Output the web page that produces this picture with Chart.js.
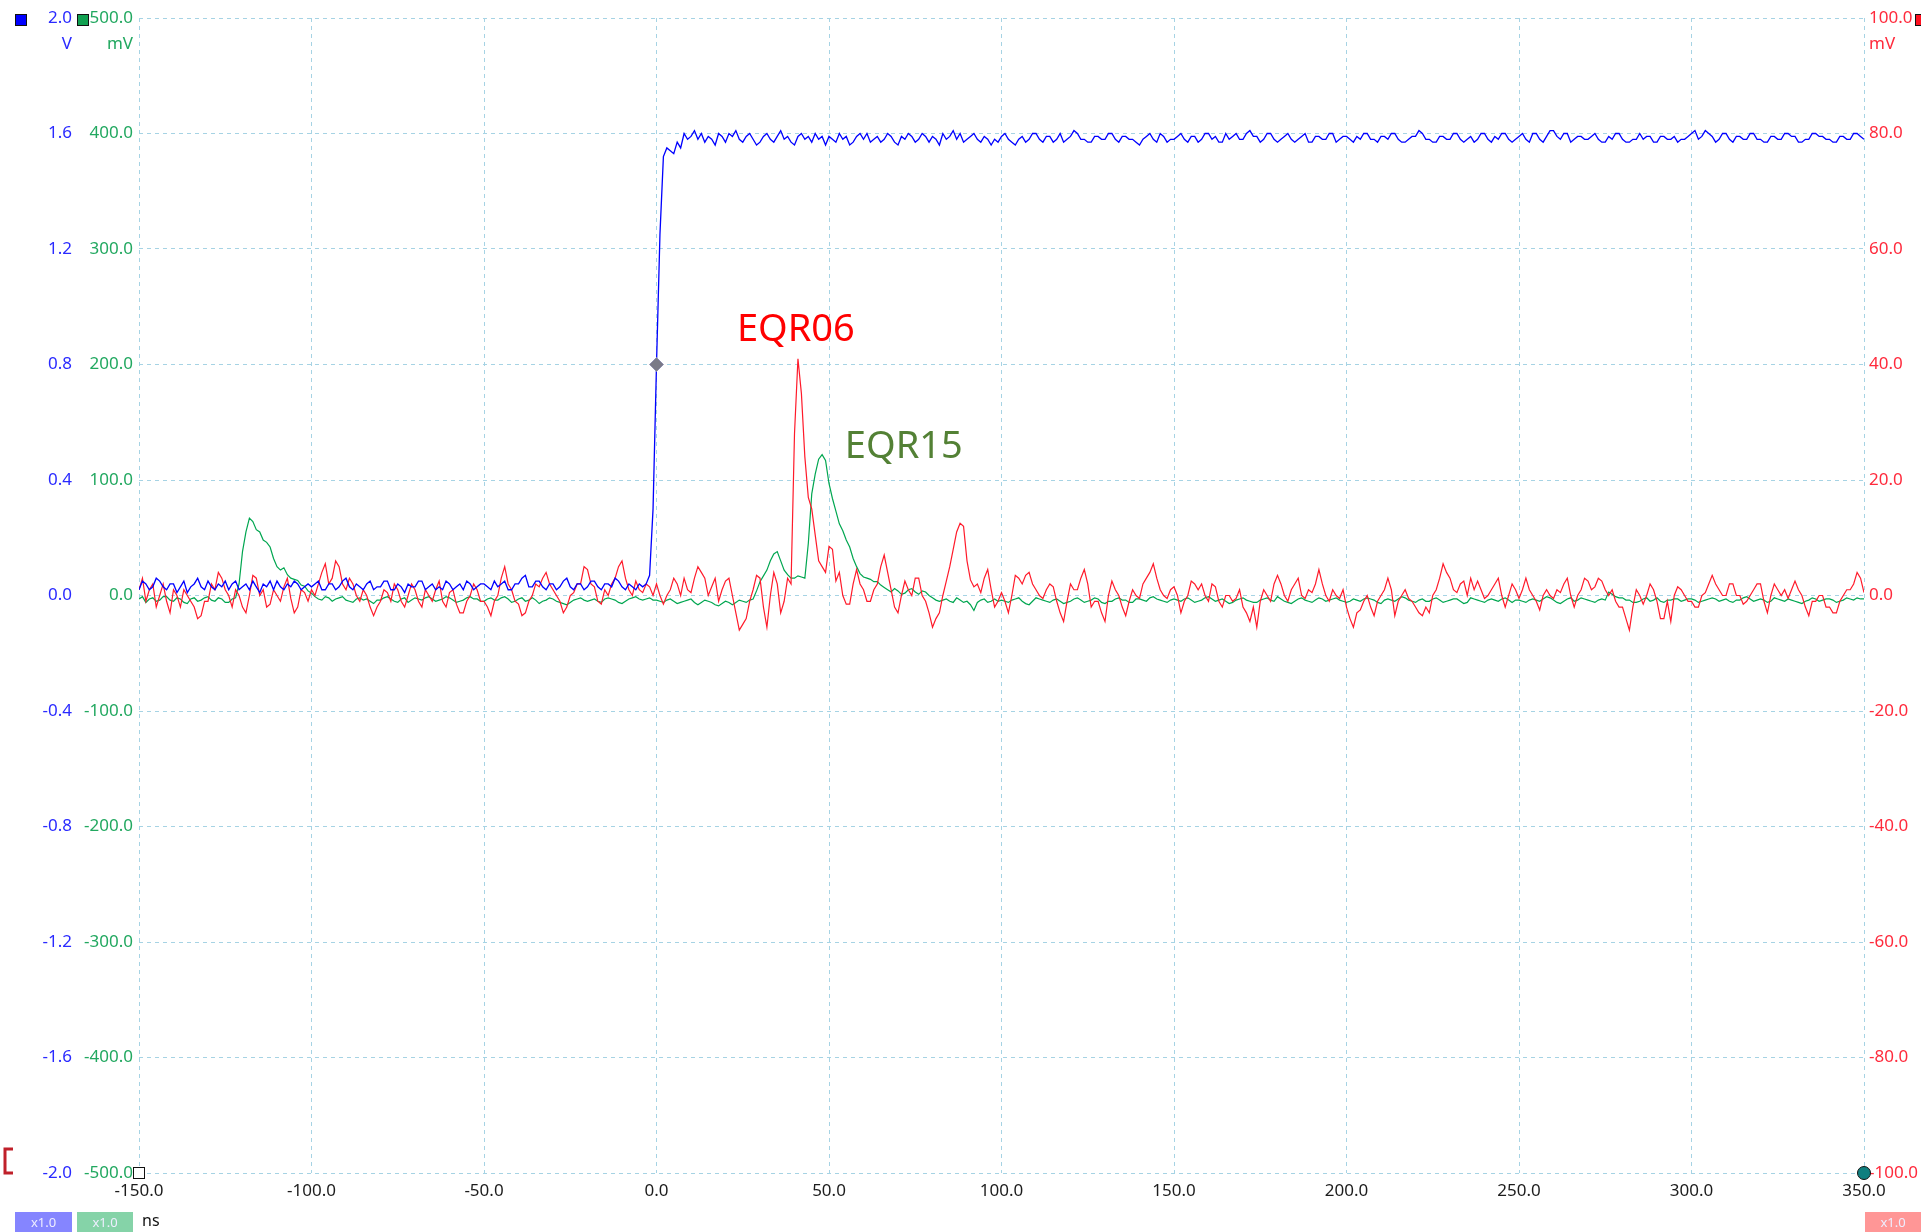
<!DOCTYPE html>
<html>
<head>
<meta charset="utf-8">
<script src="https://cdn.jsdelivr.net/npm/chart.js@4.4.1/dist/chart.umd.min.js"></script>
<style>
  html, body { margin: 0; padding: 0; background: #fff; }
  canvas { display: block; }
</style>
</head>
<body>
<canvas id="scope" width="1921" height="1232"></canvas>
<script>
// time base: one sample per ns from -150 ns
const tStart = -150;
const tStep = 1;

// channel A, volts (blue)
const chanA = [
  0.02, 0.05, 0.04, 0.02, 0.03, 0.06, 0.05, 0.03, 0.02, 0.04,
  0.04, 0.01, 0.03, 0.05, 0.01, 0.03, 0.04, 0.06, 0.03, 0.02,
  0.05, 0.03, 0.02, 0.04, 0.03, 0.05, 0.02, 0.04, 0.05, 0.02,
  0.03, 0.04, 0.02, 0.05, 0.03, 0.01, 0.04, 0.03, 0.05, 0.02,
  0.05, 0.03, 0.02, 0.04, 0.03, 0.05, 0.04, 0.02, 0.03, 0.04,
  0.03, 0.04, 0.05, 0.02, 0.02, 0.04, 0.04, 0.02, 0.03, 0.05,
  0.06, 0.03, 0.02, 0.04, 0.03, 0.02, 0.04, 0.05, 0.02, 0.03,
  0.03, 0.05, 0.05, 0.02, 0.02, 0.04, 0.03, 0.01, 0.04, 0.03,
  0.03, 0.05, 0.05, 0.02, 0.03, 0.04, 0.02, 0.03, 0.02, 0.05,
  0.04, 0.02, 0.03, 0.04, 0.02, 0.05, 0.04, 0.02, 0.03, 0.04,
  0.04, 0.03, 0.02, 0.05, 0.03, 0.04, 0.05, 0.02, 0.02, 0.04,
  0.04, 0.06, 0.07, 0.03, 0.03, 0.05, 0.05, 0.03, 0.02, 0.04,
  0.04, 0.02, 0.03, 0.05, 0.06, 0.03, 0.02, 0.04, 0.04, 0.02,
  0.03, 0.05, 0.05, 0.03, 0.02, 0.04, 0.04, 0.03, 0.06, 0.05,
  0.03, 0.02, 0.04, 0.03, 0.02, 0.04, 0.03, 0.04, 0.07, 0.3,
  0.8, 1.25, 1.52, 1.55, 1.54, 1.53, 1.57, 1.55, 1.6, 1.58,
  1.59, 1.61, 1.58, 1.6, 1.57, 1.59, 1.58, 1.56, 1.6, 1.59,
  1.57, 1.6, 1.59, 1.61, 1.58, 1.57, 1.59, 1.6, 1.58, 1.56,
  1.57, 1.59, 1.6, 1.58, 1.57, 1.59, 1.61, 1.58, 1.59, 1.57,
  1.56, 1.59, 1.6, 1.58, 1.59, 1.57, 1.6, 1.58, 1.59, 1.56,
  1.59, 1.58, 1.57, 1.6, 1.58, 1.59, 1.56, 1.57, 1.59, 1.6,
  1.58, 1.6, 1.57, 1.58, 1.59, 1.57, 1.58, 1.6, 1.59, 1.57,
  1.56, 1.59, 1.58, 1.6, 1.59, 1.57, 1.58, 1.6, 1.59, 1.57,
  1.59, 1.58, 1.56, 1.6, 1.58, 1.59, 1.61, 1.58, 1.6, 1.57,
  1.58, 1.59, 1.6, 1.58, 1.57, 1.59, 1.58, 1.56, 1.58, 1.57,
  1.59, 1.6, 1.58, 1.57, 1.56, 1.58, 1.59, 1.57, 1.58, 1.6,
  1.6, 1.58, 1.57, 1.59, 1.59, 1.57, 1.58, 1.6, 1.57, 1.58,
  1.59, 1.61, 1.6, 1.58, 1.58, 1.57, 1.57, 1.59, 1.59, 1.58,
  1.58, 1.6, 1.6, 1.58, 1.57, 1.59, 1.59, 1.58, 1.58, 1.57,
  1.56, 1.58, 1.59, 1.6, 1.58, 1.57, 1.6, 1.59, 1.57, 1.58,
  1.58, 1.59, 1.6, 1.58, 1.57, 1.59, 1.59, 1.57, 1.58, 1.6,
  1.6, 1.58, 1.59, 1.57, 1.57, 1.6, 1.58, 1.59, 1.6, 1.58,
  1.58, 1.6, 1.61, 1.59, 1.59, 1.57, 1.58, 1.6, 1.6, 1.58,
  1.57, 1.58, 1.59, 1.6, 1.58, 1.57, 1.58, 1.59, 1.6, 1.57,
  1.57, 1.59, 1.59, 1.58, 1.58, 1.6, 1.6, 1.57, 1.58, 1.59,
  1.59, 1.58, 1.57, 1.59, 1.58, 1.6, 1.6, 1.58, 1.58, 1.57,
  1.59, 1.59, 1.58, 1.6, 1.6, 1.58, 1.57, 1.57, 1.58, 1.59,
  1.59, 1.61, 1.6, 1.58, 1.58, 1.57, 1.57, 1.59, 1.59, 1.58,
  1.58, 1.6, 1.6, 1.58, 1.57, 1.58, 1.59, 1.57, 1.58, 1.6,
  1.6, 1.58, 1.57, 1.59, 1.58, 1.6, 1.6, 1.58, 1.57, 1.58,
  1.59, 1.6, 1.58, 1.57, 1.6, 1.6, 1.58, 1.57, 1.59, 1.61,
  1.61, 1.59, 1.58, 1.6, 1.6, 1.57, 1.58, 1.59, 1.59, 1.58,
  1.58, 1.59, 1.6, 1.58, 1.57, 1.57, 1.59, 1.58, 1.6, 1.6,
  1.58, 1.57, 1.57, 1.58, 1.58, 1.6, 1.58, 1.59, 1.59, 1.57,
  1.57, 1.59, 1.59, 1.58, 1.58, 1.59, 1.57, 1.58, 1.58, 1.59,
  1.6, 1.61, 1.58, 1.59, 1.61, 1.6, 1.59, 1.57, 1.58, 1.6,
  1.6, 1.58, 1.57, 1.59, 1.59, 1.58, 1.58, 1.6, 1.6, 1.58,
  1.58, 1.57, 1.57, 1.59, 1.59, 1.58, 1.58, 1.6, 1.6, 1.59,
  1.59, 1.57, 1.57, 1.58, 1.58, 1.6, 1.6, 1.59, 1.59, 1.58,
  1.58, 1.57, 1.57, 1.59, 1.59, 1.58, 1.58, 1.6, 1.6, 1.59,
  1.58
];

// channel B, mV (green, EQR15)
const chanB = [
  -3, -1, -6, -3, -2, -5, -4, -1, -1, -4,
  -5, -2, -3, -6, -7, -3, -2, -5, -4, -2,
  -1, -4, -5, -2, -3, -6, -6, -3, -2, 10,
  38, 55, 67, 64, 57, 55, 48, 46, 42, 32,
  25, 22, 24, 18, 15, 14, 13, 9, 8, 4,
  2, -1, -3, -4, -1, -2, -5, -3, -2, -1,
  -4, -5, -6, -3, -2, -4, -3, -5, -7, -4,
  -4, -2, -1, -3, -5, -6, -3, -2, -6, -4,
  -2, -3, -4, -2, -1, -3, -5, -4, -3, -1,
  -2, -4, -6, -5, -4, -2, -1, -3, -3, -5,
  -5, -3, -2, -4, -4, -2, -1, -3, -6, -5,
  -3, -2, -5, -4, -2, -4, -7, -5, -4, -2,
  -3, -5, -6, -7, -8, -6, -4, -3, -2, -4,
  -5, -4, -3, -5, -6, -3, -2, -3, -4, -6,
  -7, -5, -3, -2, -1, -3, -4, -3, -2, -4,
  -4, -5, -6, -4, -3, -5, -7, -6, -5, -4,
  -3, -6, -8, -6, -4, -5, -6, -8, -9, -7,
  -5, -6, -8, -6, -4, -5, -6, -4, -3, 4,
  12, 17, 22, 30, 36, 38, 30, 22, 18, 15,
  15, 17, 16, 15, 45, 88, 105, 118, 122, 117,
  97, 84, 73, 62, 56, 48, 42, 32, 25, 19,
  16, 15, 14, 12, 12, 9, 7, 5, 3, 6,
  4, 1, 2, 5, 6, 3, 1, 4, 3, 0,
  -2, -4, -5, -4, -3, -5, -6, -2, -4, -6,
  -5, -8, -13, -6, -4, -3, -6, -5, -3, -5,
  -4, -5, -6, -4, -3, -2, -5, -7, -8, -5,
  -2, -3, -4, -5, -6, -4, -3, -5, -7, -6,
  -5, -3, -2, -4, -6, -5, -4, -2, -3, -6,
  -7, -5, -5, -3, -2, -4, -4, -6, -6, -3,
  -3, -4, -5, -2, -1, -3, -4, -5, -6, -4,
  -3, -4, -5, -3, -2, -4, -6, -5, -4, -2,
  -1, -3, -5, -4, -3, -5, -7, -6, -4, -3,
  -2, -4, -5, -6, -6, -4, -3, -2, -4, -5,
  -1, -3, -5, -6, -7, -5, -3, -2, -4, -5,
  -6, -4, -2, -3, -5, -4, -3, -2, -4, -5,
  -6, -5, -3, -4, -5, -3, -2, -3, -4, -6,
  -7, -4, -3, -4, -5, -3, -1, -2, -4, -5,
  -6, -4, -3, -5, -5, -3, -2, -4, -6, -5,
  -4, -3, -3, -5, -7, -6, -2, -3, -4, -5,
  -6, -4, -3, -4, -5, -3, -2, -4, -6, -4,
  -4, -5, -6, -4, -3, -4, -5, -3, -1, -2,
  -4, -6, -7, -5, -3, -2, -5, -4, -2, -3,
  -4, -5, -6, -4, -3, -4, 3, 1, -1, -2,
  -2, -4, -4, -6, -6, -5, -3, -2, -5, -4,
  -2, -5, -6, -4, -4, -3, -3, -5, -4, -3,
  -3, -4, -6, -5, -4, -3, -2, -3, -5, -4,
  -3, -5, -6, -4, -4, -2, -1, -3, -5, -4,
  -3, -4, -6, -5, -2, -3, -4, -5, -3, -4,
  -5, -6, -7, -5, -4, -2, -3, -5, -4, -3,
  -3, -4, -6, -5, -4, -2, -3, -4, -2, -3,
  -3
];

// channel C, mV (red, EQR06)
const chanC = [
  1, 3, -1, 1, 2, -2, 0, 2, -1, -3,
  1, 0, -2, 1, 0, -1, -2, -4, -3.5, -1,
  -1, 2, 1, 4, 3, 1, 0, -2, 1, 0,
  -2, -3, 0, 3.5, 3, 0, 1, -2, -1.5, 1,
  0, -1, 1.5, 3, -0.5, -3, -2, 1, 0.5, -1,
  1, 0, 2, 4, 5.5, 2, 3, 6, 5, 2,
  1, 3, 2, 0, -1, 1, 0, -2, -3.5, -2,
  -1, 1, 0.5, -1, 2, 1, -1, -2, 0, 2,
  1, -1, -2, 1, 0, -1, 1, 2.5, -1, -2,
  0.5, 1, -1.5, -3, -3, -1, 0, 2, 1, -1,
  -1, -2, -3.5, -1, 0, 3, 5, 2, 1, -1,
  -1.5, -3.5, -3, -1, 0, 2, 1.5, 3, 4, 2,
  1, 0, -1, -3, -2, 0, 0.5, 2, 2, 5,
  4.5, 2, 1.5, -1, -1.5, 1, 0, 2, 3, 5,
  6, 3, 1, 0, 2.5, 1, 0.5, 2, 1.5, 0,
  2, 0, -1.5, 0, 1, 3, 2, 0, 3, 1,
  0.5, 3, 5, 4, 3, 0, 1.5, 3, -1, 1,
  2.5, 3, 0, -3, -6, -5, -4, -1, 1, 3.5,
  3, -2, -5.5, 0, 4, 2, -3, -1, 3, 2,
  28, 41, 35, 24, 17, 15, 10.5, 6, 5, 4,
  8.5, 8, 2.5, 4, 0, -1.5, -1.5, 2, 4.5, 2,
  1, -1, -1, 1, 2, 5, 7, 4, 1, -2,
  -3, 0, 2.5, 1, 0, 3, 3, 0, -1, -3,
  -5.5, -4, -3, 0, 2.5, 5, 8, 11, 12.5, 12,
  6, 2.7, 1.5, 2, 0.5, 3, 4.5, 1, -2, -1,
  0.5, -1, -3, 0, 3.5, 3, 2, 3.5, 4, 2,
  1, 0, -0.5, 1, 2, 1.5, -1, -3, -4.5, -1,
  2, 1, 1, 3, 4.5, 2, -2, -1, -1, -3,
  -4.5, 0, 2.5, 1, 0, -2, -3.5, -1, 1, 0,
  -0.5, 2, 3, 4, 5.5, 3, 1, 0, -0.5, 1,
  1.5, 0, -3, -1, 0, 2.5, 2, 1, 2, 0,
  -1, 2, 1.5, -1, -2, 0, 0, -1, -0.5, 1,
  -2, -3, -4.5, -2, -5.5, -1, 1, 0, -1, 2,
  3.5, 2, 0, -1, 1, 2, 3, 0, -0.5, 1,
  0.5, 2, 4.5, 2, 0, -1, 1, 0, -0.5, 1,
  -2, -4, -5.5, -3, -2.5, -1, 0, -2, -3.5, -1,
  0, 1, 3, 1, -3.5, -1, 0, 1, -0.5, -1,
  -2, -3, -3.5, -2, -3, 0, 1, 3, 5.5, 4,
  3, 1, 0.5, 2, 2.5, 0, 3, 1, 2.5, 1,
  -0.5, 0, 1, 2, 3, 0, -2, 0, 2, 1,
  -0.5, 1, 3, 1, 0, -1, -2.5, 0, 1, 0,
  -0.5, 1, 0.5, 2, 3, 0, -2, 0, 1, 3,
  2.5, 1, 1.5, 3, 2.5, 1, 0, 1, -1, -2,
  -2, -4, -6, -2, 1, 0, -1.5, 0, 2, 1,
  -1, -4, -4, -1, -4.5, 0, 1.5, 1, 0, -1,
  -1, -2, -2, 0, 0.5, 2, 3.5, 2, 1, 0,
  0, 2, 2, 0, 0, -1.5, -1, 0, 1, 2,
  2, -1, -3, 0, 2, 1, 0, 1, -0.5, 1,
  2.5, 1, 0, -2, -3.5, -1, -1, 0, 0, -2,
  -2, -3, -3, -1, 0, 1, 1, 2, 4, 3,
  0.5
];

const times = chanA.map((_, i) => tStart + i * tStep);
const pts = arr => arr.map((v, i) => ({ x: times[i], y: v }));

const blueText = '#2a2aff';
const greenText = '#22a860';
const redText = '#ff2a3c';
const gridCol = '#a6d3e4';
const font = { family: '"Noto Sans", "Open Sans", sans-serif', size: 17 };

const decor = {
  id: 'decor',
  afterDraw(chart) {
    const ctx = chart.ctx;
    const a = chart.chartArea;
    const xs = chart.scales.x, yV = chart.scales.yV, yG = chart.scales.yG, yR = chart.scales.yR;
    ctx.save();
    ctx.font = '17px "Noto Sans", sans-serif';
    ctx.textBaseline = 'middle';
    ctx.textAlign = 'right';
    ctx.fillStyle = blueText;
    ctx.fillText('V', yV.right - 7, a.top + 26);
    ctx.fillStyle = greenText;
    ctx.fillText('mV', yG.right - 6, a.top + 26);
    ctx.textAlign = 'left';
    ctx.fillStyle = redText;
    ctx.fillText('mV', yR.left + 5, a.top + 26);

    // channel squares
    const sq = (x, y, fill) => {
      ctx.fillStyle = fill;
      ctx.fillRect(x, y, 12, 12);
      ctx.strokeStyle = '#111';
      ctx.lineWidth = 1;
      ctx.strokeRect(x + 0.5, y + 0.5, 11, 11);
    };
    sq(15, a.top - 4, '#0000ff');
    sq(77, a.top - 4, '#10a050');
    sq(yR.left + 51, a.top - 4, '#ff1020');

    // ruler markers at the corners
    ctx.fillStyle = '#fff';
    ctx.fillRect(a.left - 6, a.bottom - 6, 12, 12);
    ctx.strokeStyle = '#111';
    ctx.strokeRect(a.left - 5.5, a.bottom - 5.5, 11, 11);
    ctx.beginPath();
    ctx.arc(a.right, a.bottom, 6.5, 0, Math.PI * 2);
    ctx.fillStyle = '#0f7f7f';
    ctx.fill();
    ctx.stroke();

    // bracket bottom-left
    ctx.strokeStyle = '#c0202a';
    ctx.lineWidth = 3;
    ctx.beginPath();
    ctx.moveTo(13, a.bottom - 24);
    ctx.lineTo(5, a.bottom - 24);
    ctx.lineTo(5, a.bottom);
    ctx.lineTo(13, a.bottom);
    ctx.stroke();

    // scale badges
    const badge = (x, w, fill) => {
      ctx.fillStyle = fill;
      ctx.fillRect(x, 1212, w, 20);
      ctx.fillStyle = '#eef';
      ctx.font = '13px "Noto Sans", sans-serif';
      ctx.textAlign = 'center';
      ctx.fillText('x1.0', x + w / 2, 1223);
    };
    badge(15, 57, '#8585ff');
    badge(77, 56, '#85d3a8');
    badge(a.right + 1, chart.width - a.right - 1, '#ff9696');
    ctx.fillStyle = '#111';
    ctx.font = '16px "Noto Sans", sans-serif';
    ctx.textAlign = 'left';
    ctx.fillText('ns', 142, 1221);

    // trace names
    ctx.font = '38px "Noto Sans", sans-serif';
    ctx.textBaseline = 'alphabetic';
    ctx.fillStyle = '#ff0000';
    ctx.fillText('EQR06', xs.getPixelForValue(23.3), yR.getPixelForValue(44));
    ctx.fillStyle = '#538135';
    ctx.fillText('EQR15', xs.getPixelForValue(54.6), yR.getPixelForValue(23.8));
    ctx.restore();
  }
};

new Chart(document.getElementById('scope'), {
  type: 'line',
  data: {
    datasets: [
      {
        label: 'A',
        data: pts(chanA),
        yAxisID: 'yV',
        borderColor: '#0000ff',
        borderWidth: 1.3,
        order: 0,
        pointRadius: c => (c.raw && c.raw.x === 0 ? 7 : 0),
        pointStyle: 'rectRot',
        pointBackgroundColor: '#7a7a88',
        pointBorderColor: '#9090b0',
        pointBorderWidth: 1
      },
      {
        label: 'C',
        data: pts(chanC),
        yAxisID: 'yR',
        borderColor: '#ff1a2a',
        borderWidth: 1.2,
        order: 1,
        pointRadius: 0
      },
      {
        label: 'B',
        data: pts(chanB),
        yAxisID: 'yG',
        borderColor: '#00a650',
        borderWidth: 1.2,
        order: 2,
        pointRadius: 0
      }
    ]
  },
  options: {
    responsive: false,
    animation: false,
    events: [],
    layout: { padding: { top: 18, left: 0, right: 0, bottom: 0 } },
    elements: { line: { tension: 0 } },
    plugins: { legend: { display: false }, tooltip: { enabled: false } },
    scales: {
      x: {
        type: 'linear',
        min: -150,
        max: 350,
        afterFit: s => { s.height = 59; },
        ticks: {
          stepSize: 50,
          color: '#1c1c1c',
          font: font,
          padding: 8,
          maxRotation: 0,
          callback: v => v.toFixed(1)
        },
        grid: { color: gridCol, lineWidth: 1, drawTicks: false },
        border: { display: false, dash: [4, 4] }
      },
      yV: {
        position: 'left',
        weight: 1,
        min: -2,
        max: 2,
        afterFit: s => { s.width = 79; },
        ticks: {
          stepSize: 0.4,
          color: blueText,
          font: font,
          padding: 7,
          callback: v => (+v).toFixed(1)
        },
        grid: { color: gridCol, lineWidth: 1, drawTicks: false },
        border: { display: false, dash: [4, 4] }
      },
      yG: {
        position: 'left',
        weight: 0,
        min: -500,
        max: 500,
        afterFit: s => { s.width = 60; },
        ticks: {
          stepSize: 100,
          color: greenText,
          font: font,
          padding: 6,
          callback: v => v.toFixed(1)
        },
        grid: { display: false, drawTicks: false },
        border: { display: false }
      },
      yR: {
        position: 'right',
        min: -100,
        max: 100,
        afterFit: s => { s.width = 57; },
        ticks: {
          stepSize: 20,
          color: redText,
          font: font,
          padding: 5,
          callback: v => v.toFixed(1)
        },
        grid: { display: false, drawTicks: false },
        border: { display: false }
      }
    }
  },
  plugins: [decor]
});
</script>
</body>
</html>
